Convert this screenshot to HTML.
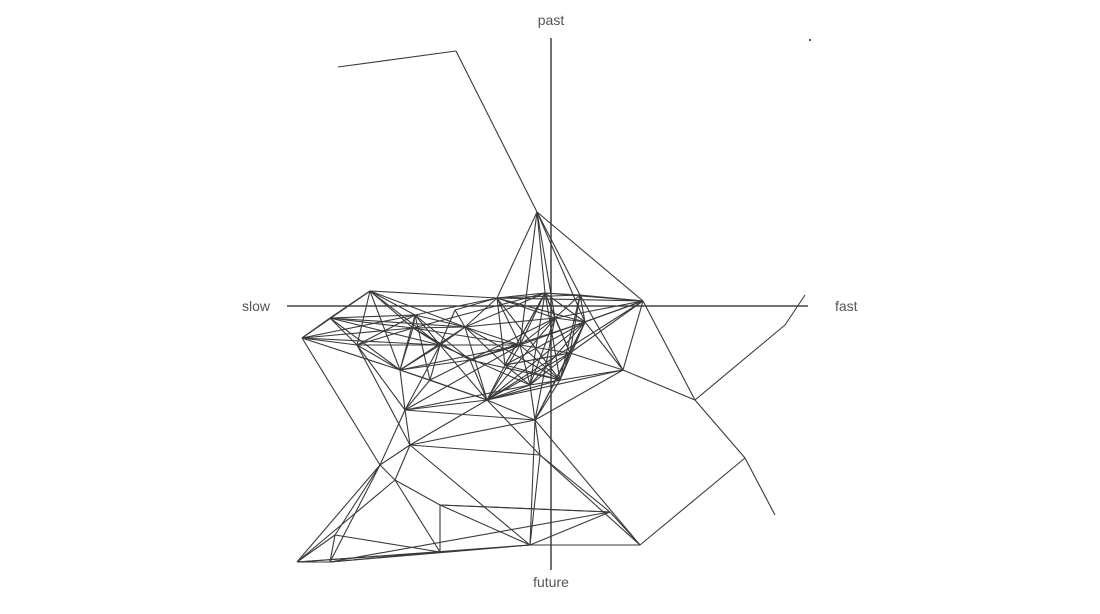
<!DOCTYPE html>
<html><head><meta charset="utf-8"><style>
html,body{margin:0;padding:0;background:#fff;width:1100px;height:614px;overflow:hidden}
svg{display:block}
text{font-family:"Liberation Sans",sans-serif;font-size:14px;fill:#555}
</style></head><body>
<svg id="chart" width="1100" height="614" viewBox="0 0 1100 614">
<g id="axes">
<line x1="551" y1="38" x2="551" y2="570" stroke="#222" stroke-width="1.3"/>
<line x1="287" y1="306" x2="808" y2="306" stroke="#222" stroke-width="1.3"/>
<text x="551" y="25" text-anchor="middle">past</text>
<text x="551" y="587" text-anchor="middle">future</text>
<text x="270" y="311" text-anchor="end">slow</text>
<text x="835" y="311">fast</text>
</g>
<g id="edges"></g>
<rect x="809" y="39" width="2" height="2" fill="#555"/>
</svg>
<script>
const nodeX=[338,456,537,370,302,330,415,413,357,400,465,497,545,580,643,585,555,570,623,487,535,530,520,440,405,410,380,440,297,330,440,530,610,640,695,745,775,785,805,335,395,540,455,505,560,470,430];
const nodeY=[67,51,212,291,338,318,315,328,345,370,327,298,293,295,301,322,318,353,370,400,420,385,345,345,410,445,465,505,562,562,552,545,512,545,400,458,515,325,295,535,480,455,310,365,380,360,380];
const edgeFrom=[0,1,2,2,2,2,2,2,2,3,3,3,3,3,3,3,3,3,4,4,4,4,4,4,4,5,5,5,5,5,5,6,6,6,6,6,6,7,7,7,7,7,7,8,8,8,8,9,9,9,9,9,10,10,10,10,10,10,10,11,11,11,11,11,11,11,12,12,12,12,12,12,12,13,13,13,13,13,14,14,14,14,14,14,14,15,15,15,15,15,15,16,16,16,16,16,17,17,17,17,17,18,18,18,18,19,19,19,19,19,19,19,20,20,20,20,20,20,21,21,21,22,22,23,23,24,24,25,25,25,25,26,26,26,26,27,27,27,27,28,28,28,28,28,29,29,29,29,30,30,30,31,31,31,32,32,32,33,33,34,35,34,37,
43,43,43,43,43,43,43,44,44,44,44,44,44,44,45,45,45,45,45,46,46,46,46,46,43,44,45,10,11,12,15,16,17];
const edgeTo=[1,2,12,11,13,16,15,22,14,4,5,6,7,8,9,10,23,11,5,6,7,8,9,23,26,6,7,8,9,10,23,7,8,10,11,23,9,8,9,10,22,23,12,9,23,24,25,10,19,23,24,22,11,12,16,19,22,23,42,12,13,14,16,15,22,42,13,14,15,16,17,21,22,14,15,16,17,18,15,16,17,18,34,19,22,16,17,18,19,21,20,17,21,22,19,20,18,19,20,21,22,20,34,21,19,20,21,22,23,24,25,41,21,41,31,24,25,33,22,23,24,23,24,24,42,25,26,26,40,41,31,39,40,28,29,30,31,40,32,29,39,30,40,31,30,39,31,32,31,40,39,32,33,41,33,41,27,35,41,35,36,37,38,
10,11,12,15,17,19,21,12,13,15,17,19,20,22,6,7,9,19,22,6,9,19,24,23,44,45,46,44,44,43,45,45,43];
const g=document.getElementById('edges');
const NS='http://www.w3.org/2000/svg';
for(let i=0;i<edgeFrom.length;i++){
  const a=edgeFrom[i],b=edgeTo[i];
  const l=document.createElementNS(NS,'line');
  l.setAttribute('x1',nodeX[a]);l.setAttribute('y1',nodeY[a]);
  l.setAttribute('x2',nodeX[b]);l.setAttribute('y2',nodeY[b]);
  l.setAttribute('stroke','#3a3a3a');l.setAttribute('stroke-width','1.1');
  
  
  g.appendChild(l);
}
</script>
</body></html>
